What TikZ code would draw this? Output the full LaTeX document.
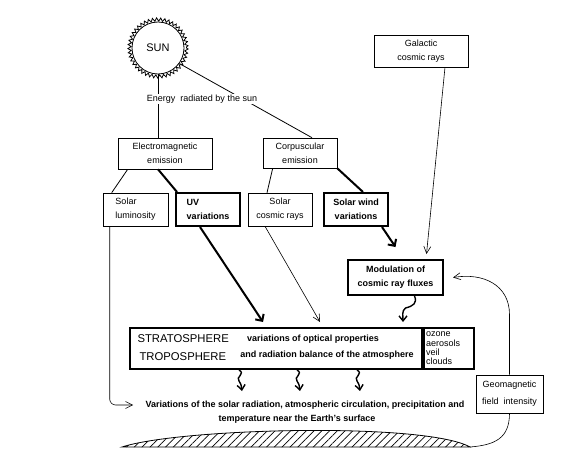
\documentclass[tikz,border=0pt]{standalone}
\usepackage{fontspec}
\setmainfont{Liberation Sans}
\usetikzlibrary{arrows.meta,calc,patterns.meta,decorations.pathmorphing}
\tikzset{
  box/.style={draw,line width=0.6pt,inner sep=1pt,align=center,font=\fontsize{9}{14}\selectfont},
  boldbox/.style={box,line width=2pt,font=\fontsize{9}{14}\selectfont\bfseries},
  thinarrow/.style={line width=0.6pt,-{Straight Barb[length=7pt,width=7pt]}},
  thickarrow/.style={line width=2pt,-{Straight Barb[length=5pt,width=10pt]}},
  wavyarrow/.style={line width=1.4pt,-{Straight Barb[length=5pt,width=8pt]}},
  boldtext/.style={font=\fontsize{9}{10}\selectfont\bfseries},
}

\begin{document}
\begin{tikzpicture}[x=1pt,y=-1pt]
        \useasboundingbox (0,0) rectangle (561,457);
        % sun
        \node [circle,draw,line width=0.8pt,minimum size=52pt,font=\fontsize{11}{12}\selectfont] (sun) at (158,48) {SUN};
        \draw [line width=0.8pt,decorate,decoration={zigzag,segment length=4pt,amplitude=1.6pt}] (sun.center) circle (28.5);
        % boxes
        \node [box,minimum width=94pt,minimum height=31pt] (em) at (165,153.5) {Electromagnetic\\emission};
        \node [box,minimum width=74pt,minimum height=30pt] (corp) at (300,153) {Corpuscular\\emission};
        \node [box,minimum width=65pt,minimum height=33pt,align=left] (lum) at (135.5,209.5) {Solar\\luminosity};
        \node [boldbox,minimum width=64pt,minimum height=33pt,align=left] (uv) at (208,209.5) {UV\\variations};
        \node [box,minimum width=64pt,minimum height=33pt] (scr) at (280,209.5) {Solar\\cosmic rays};
        \node [boldbox,minimum width=64pt,minimum height=33pt] (sw) at (356,209.5) {Solar wind\\variations};
        \node [box,minimum width=94pt,minimum height=32pt] (gal) at (421,51) {Galactic\\cosmic rays};
        \node [boldbox,minimum width=95pt,minimum height=35pt] (mod) at (395.5,277.5) {Modulation of\\cosmic ray fluxes};
        \node [box,minimum width=67pt,minimum height=38pt,font=\fontsize{9}{17}\selectfont] (geo) at (509.5,394) {Geomagnetic\\field\ \ intensity};
        % atmosphere
        \node [draw,line width=2pt,minimum width=292pt,minimum height=41pt] (atm) at (276,348.5) {};
        \node [draw,line width=2pt,minimum width=50pt,minimum height=41pt,anchor=west,text width=46pt,inner sep=0pt,align=left,font=\fontsize{9}{9.4}\selectfont] (lst) at (atm.east) {ozone\\aerosols\\veil\\clouds};
        \node [anchor=west,font=\fontsize{11.3}{12}\selectfont] (strat) at (134,339) {STRATOSPHERE};
        \node [anchor=west,font=\fontsize{11.3}{12}\selectfont] (tropo) at (136,357) {TROPOSPHERE};
        \node [boldtext] (opt1) at (313,339) {variations of optical properties};
        \node [boldtext] (opt2) at (327,355) {and radiation balance of the atmosphere};
        % surface
        \node [boldtext] (surf1) at (305,405) {Variations of the solar radiation, atmospheric circulation, precipitation and};
        \node [boldtext] (surf2) at (297,419) {temperature near the Earth's surface};
        \coordinate (earthL) at (122,447);
        \coordinate (earthR) at (470,447);
        \draw [line width=0.8pt,pattern={Lines[angle=45,distance=5.5pt,line width=0.7pt]}] (earthL) .. controls (180,428) and (425,422) .. (earthR) -- cycle;
        % connectors
        \draw [line width=0.8pt] (sun.south) -- (sun.south |- em.north);
        \draw [line width=0.8pt] (sun.-36) -- ($(corp.north)+(12,0)$);
        \node [fill=white,inner sep=1pt,font=\fontsize{9}{10}\selectfont] (energy) at (202,99) {Energy\ \ radiated by the sun};
        \draw [line width=0.8pt] ($(em.south west)+(10,0)$) -- ($(lum.north west)+(9,0)$);
        \draw [line width=2pt] ($(em.south)+(-7,0)$) -- ($(uv.north west)+(2,0)$);
        \draw [line width=0.8pt] ($(corp.south west)+(10,0)$) -- ($(scr.north)+(-13,0)$);
        \draw [line width=2pt] (corp.south east) -- ($(sw.north)+(7,0)$);
        \draw [thickarrow] ($(uv.south)+(-8,0)$) -- ($(atm.north)+(-13,-5)$);
        \draw [thinarrow] ($(scr.south)+(-15,0)$) -- ($(atm.north)+(44,-5)$);
        \draw [thickarrow] ($(sw.south)+(26,0)$) -- ($(mod.north)+(0,-12)$);
        \draw [thinarrow] ($(gal.south)+(24,0)$) -- ($(mod.north)+(31,-5)$);
        \draw [wavyarrow] ($(mod.south)+(19,0)$) .. controls +(3,7) and +(8,-2) .. ++(-9,12) .. controls +(-4,3) and +(0,-6) .. ($(atm.north)+(127,-5)$);
        \foreach \dx in {-34,24,84}
          \draw [wavyarrow] ($(atm.south)+(\dx-3,0)$) .. controls +(7,4) and +(-4,-4) .. ++(0,11) .. controls +(2,3) .. ++(3,10);
        \draw [thinarrow,rounded corners=6pt] ($(lum.south west)+(7,0)$) |- ($(surf1.west)+(-9,0)$);
        \draw [thinarrow] (geo.north) -- ++(0,-60) .. controls +(0,-30) and +(30,-5) .. ($(mod.east)+(9,0)$);
        \draw [line width=0.6pt] (geo.south) .. controls +(0,25) and +(25,-2) .. (earthR);
\end{tikzpicture}
\end{document}
